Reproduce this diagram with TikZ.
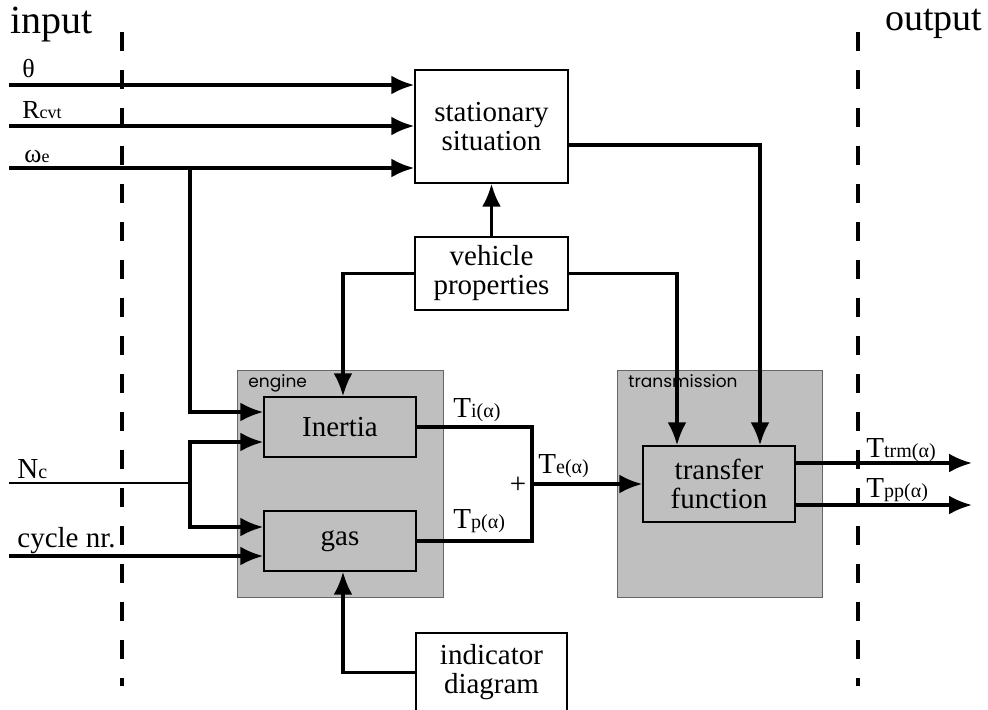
\documentclass[tikz,border=0pt]{standalone}
\usepackage{fontspec}
\setmainfont{Liberation Serif}
\newfontfamily\gothic{Poppins}
\usetikzlibrary{arrows.meta}

% small index text set on the base line
\newcommand{\lo}[1]{{\fontsize{10}{10}\selectfont #1}}
\newcommand{\sm}[1]{{\fontsize{9}{9}\selectfont #1}}

\begin{document}
\begin{tikzpicture}[x=0.5pt,y=-0.5pt,
    block/.style={draw,line width=0.7pt,fill=white,align=center,inner sep=0pt,
        font=\fontsize{14.5}{14.5}\selectfont},
    inner/.style={block,fill=black!25},
    group/.style={draw=black!60,line width=0.5pt,fill=black!25,inner sep=0pt},
    grouplab/.style={anchor=base west,inner sep=0pt,font=\gothic\fontsize{8.5}{8.5}\selectfont},
    sig/.style={line width=1.7pt,-{Latex[length=11.5pt,width=9.5pt]}},
    wire/.style={line width=1.7pt},
    border/.style={line width=2.2pt,dash pattern=on 9.5pt off 9.5pt},
    lab/.style={anchor=base west,inner sep=0pt,font=\fontsize{14.5}{14.5}\selectfont},
    slab/.style={anchor=base west,inner sep=0pt,font=\fontsize{13}{13}\selectfont}]

\useasboundingbox (0,0) rectangle (988,709);

% system border
\draw[border] (122,32) -- (122,686);
\draw[border] (858,32) -- (858,686);
\node[anchor=base west,inner sep=0pt,font=\fontsize{20}{20}\selectfont] (in) at (10,33) {input};
\node[anchor=base west,inner sep=0pt,font=\fontsize{19}{19}\selectfont] (out) at (885,30) {output};

% sub systems
\node[group,minimum width=103pt,minimum height=113.5pt] (engine) at (340,483.5) {};
\node[grouplab] (englab) at (248,387) {engine};
\node[group,minimum width=102.5pt,minimum height=113.5pt] (trans) at (719.5,483.5) {};
\node[grouplab] (trlab) at (628,387) {transmission};

% blocks
\node[block,minimum width=76.5pt,minimum height=56.5pt] (stat) at (491.5,126.5) {stationary\\situation};
\node[block,minimum width=76.5pt,minimum height=36.5pt] (veh) at (491.5,273.5) {vehicle\\properties};
\node[block,minimum width=75.5pt,minimum height=39.5pt] (ind) at (491.5,672.5) {indicator\\diagram};
\node[inner,minimum width=76pt,minimum height=30pt] (inert) at (340,427) {Inertia};
\node[inner,minimum width=76pt,minimum height=30pt] (gas) at (340,541) {gas};
\node[inner,minimum width=76pt,minimum height=38pt] (tf) at (719,484) {transfer\\function};

% inputs
\coordinate (theta) at (9,85);
\coordinate (rcvt) at (9,126);
\coordinate (omega) at (9,168);
\coordinate (nc) at (9,483);
\coordinate (cyc) at (9,556);
\coordinate (wsplit) at (190,168);
\coordinate (ncsplit) at (190,483);

\node[slab] (thetalab) at (22,77) {θ};
\node[slab] (rcvtlab) at (22,118) {R\sm{cvt}};
\node[slab] (omegalab) at (24,162) {ω\sm{e}};
\node[lab] (nclab) at (17,478) {N\lo{c}};
\node[lab] (cyclab) at (17,547) {cycle nr.};

\draw[sig] (theta) -- (theta -| stat.west);
\draw[sig] (rcvt) -- (rcvt -| stat.west);
\draw[sig] (omega) -- (omega -| stat.west);
\draw[sig] (wsplit) |- ([yshift=7.5pt]inert.west);
\draw[line width=1.1pt] (nc) -- (ncsplit);
\draw[sig] (ncsplit) |- ([yshift=-7.5pt]inert.west);
\draw[sig] (ncsplit) |- ([yshift=7pt]gas.west);
\draw[sig] (cyc) -- (cyc -| gas.west);

% properties and indicator diagram
\draw[sig] (veh.north) -- (stat.south);
\draw[sig] (veh.west) -| ([xshift=1.5pt]inert.north);
\draw[sig] (veh.east) -| ([xshift=-21pt]tf.north);
\draw[sig] ([yshift=-9.25pt]stat.east) -| ([xshift=20.5pt]tf.north);
\draw[sig] (ind.west) -| ([xshift=1.5pt]gas.south);

% engine torque
\coordinate (sum) at (532,484);
\draw[wire] (inert.east) -| (sum) |- (gas.east);
\draw[sig] (sum) -- (tf.west);
\node[lab] (tilab) at (453,417) {T\lo{i(α)}};
\node[lab] (tplab) at (453,528) {T\lo{p(α)}};
\node[lab] (telab) at (538,473) {T\lo{e(α)}};
\node[inner sep=0pt,font=\fontsize{14.5}{14.5}\selectfont] (plus) at (518,485) {+};

% outputs
\coordinate (trm) at (972,463);
\coordinate (pp) at (972,505);
\draw[sig] (tf.east |- trm) -- (trm);
\draw[sig] (tf.east |- pp) -- (pp);
\node[lab] (trmlab) at (866,457) {T\lo{trm(α)}};
\node[lab] (pplab) at (866,497) {T\lo{pp(α)}};
\end{tikzpicture}
\end{document}
